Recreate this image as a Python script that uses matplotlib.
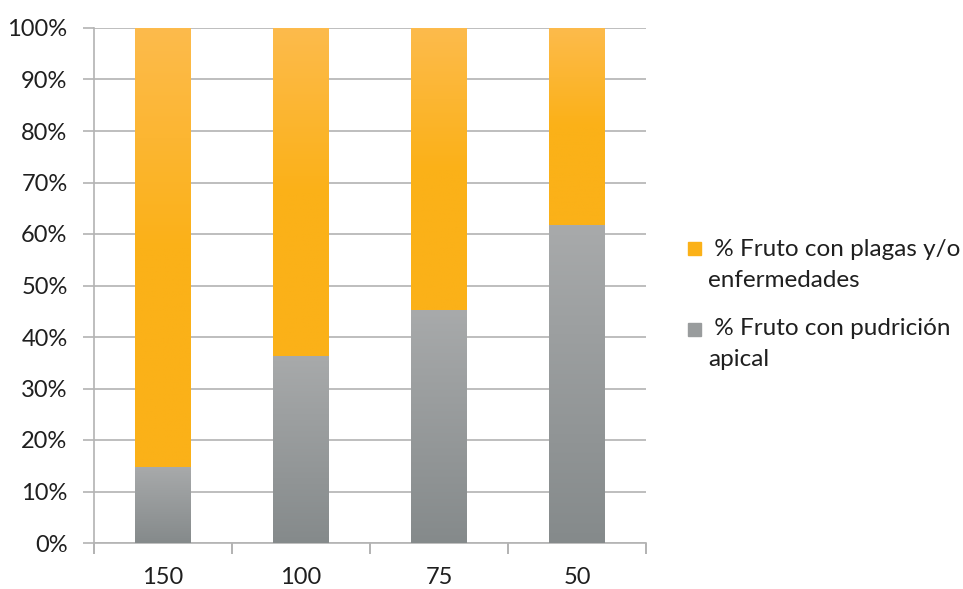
import numpy as np
import matplotlib
matplotlib.use("Agg")
import matplotlib.pyplot as plt
from matplotlib.patches import Rectangle
from matplotlib.colors import LinearSegmentedColormap

categories = ["150", "100", "75", "50"]
pudricion = [14.8, 36.4, 45.3, 61.7]
plagas = [100 - v for v in pudricion]
legend_labels = [" % Fruto con plagas y/o\nenfermedades", " % Fruto con pudrición\napical"]
yticks = list(range(0, 101, 10))
ytick_labels = [f"{v}%" for v in yticks]

plt.rcParams['font.family'] = ['Lato', 'DejaVu Sans']

W, H = 963, 589
fig = plt.figure(figsize=(W / 100, H / 100), dpi=100)
ax = fig.add_axes([94 / W, 1 - 543 / H, (646 - 94) / W, (543 - 28) / H])

x = np.arange(len(categories))
bw = 0.40
gray_cmap = LinearSegmentedColormap.from_list("g", ["#a8aaab", "#858a8b"])
orange_cmap = LinearSegmentedColormap.from_list("o", ["#fdbb4c", "#fbb118", "#fbb118"])

b1 = ax.bar(x, pudricion, bw, color="#999c9d", zorder=2)
b2 = ax.bar(x, plagas, bw, bottom=pudricion, color="#fbb118", zorder=2)

grad = np.linspace(0, 1, 256).reshape(-1, 1)
for bars, cmap in ((b1, gray_cmap), (b2, orange_cmap)):
    for p in bars:
        x0, y0 = p.get_x(), p.get_y()
        w, h = p.get_width(), p.get_height()
        im = ax.imshow(grad, cmap=cmap, aspect="auto",
                       extent=(x0, x0 + w, y0, y0 + h), origin="upper", zorder=3)
        im.set_clip_path(p)

ax.set_xlim(-0.5, len(categories) - 0.5)
ax.set_ylim(0, 100)
ax.set_yticks(yticks)
ax.set_yticklabels(ytick_labels)
ax.set_xticks(x)
ax.set_xticklabels(categories)
ax.set_xticks(np.arange(len(categories) + 1) - 0.5, minor=True)
ax.tick_params(axis="x", which="major", length=0, pad=17, labelsize=17, labelcolor="#1f1f1f")
ax.tick_params(axis="x", which="minor", length=8, color="#a6a6a6", width=1.2)
ax.tick_params(axis="y", length=8, color="#b3b3b3", width=1.2, pad=11, labelsize=17, labelcolor="#1f1f1f")
ax.yaxis.grid(True, color="#b3b3b3", linewidth=1.2, zorder=0)
ax.set_axisbelow(True)
for s in ("top", "right"):
    ax.spines[s].set_visible(False)
for s in ("left", "bottom"):
    ax.spines[s].set_color("#b3b3b3")
    ax.spines[s].set_linewidth(1.2)

# legend (manual, Excel-like wrapping)
sq = 13
entries = [(legend_labels[0], "#fbb118", 242, 256, 287), (legend_labels[1], "#999c9d", 323, 335, 366)]
for lab, col, top, base1, base2 in entries:
    fig.patches.append(Rectangle((688 / W, 1 - (top + sq) / H), sq / W, sq / H,
                                 transform=fig.transFigure, color=col))
    l1, l2 = lab.split("\n")
    fig.text(708 / W, 1 - base1 / H, l1, fontsize=17.5, color="#1f1f1f", va="baseline")
    fig.text(708 / W, 1 - base2 / H, l2, fontsize=17.5, color="#1f1f1f", va="baseline")

fig.savefig("out.png", dpi=100)
